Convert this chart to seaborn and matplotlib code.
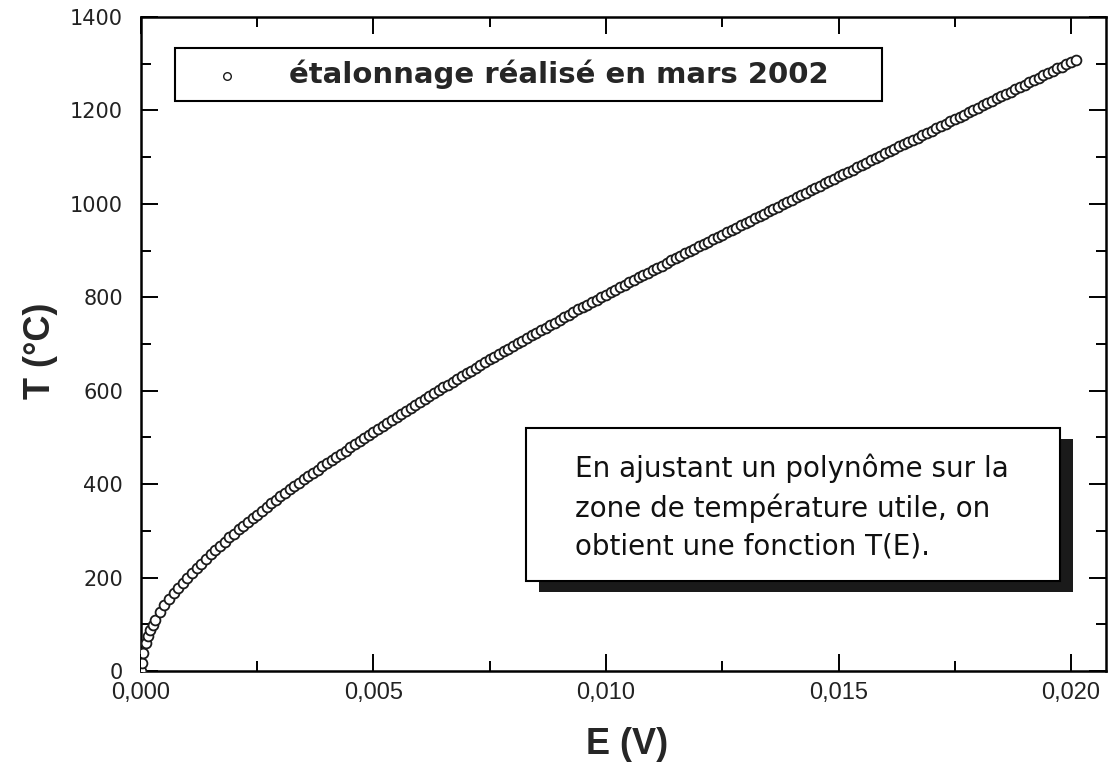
import numpy as np
import matplotlib
matplotlib.use("Agg")
import matplotlib.pyplot as plt
import seaborn as sns
from matplotlib.patches import Rectangle
from matplotlib.ticker import MultipleLocator, FuncFormatter

# calibration points: E in mV, T in degC
E_mV = [0.0, 0.02, 0.05, 0.1, 0.15, 0.2, 0.25,
        0.3, 0.4, 0.5, 0.6, 0.7, 0.8, 0.9,
        1.0, 1.1, 1.2, 1.3, 1.4, 1.5, 1.6, 1.7, 1.8, 1.9,
        2.0, 2.1, 2.2, 2.3, 2.4, 2.5, 2.6, 2.7, 2.8, 2.9,
        3.0, 3.1, 3.2, 3.3, 3.4, 3.5, 3.6, 3.7, 3.8, 3.9,
        4.0, 4.1, 4.2, 4.3, 4.4, 4.5, 4.6, 4.7, 4.8, 4.9,
        5.0, 5.1, 5.2, 5.3, 5.4, 5.5, 5.6, 5.7, 5.8, 5.9,
        6.0, 6.1, 6.2, 6.3, 6.4, 6.5, 6.6, 6.7, 6.8, 6.9,
        7.0, 7.1, 7.2, 7.3, 7.4, 7.5, 7.6, 7.7, 7.8, 7.9,
        8.0, 8.1, 8.2, 8.3, 8.4, 8.5, 8.6, 8.7, 8.8, 8.9,
        9.0, 9.1, 9.2, 9.3, 9.4, 9.5, 9.6, 9.7, 9.8, 9.9,
        10.0, 10.1, 10.2, 10.3, 10.4, 10.5, 10.6, 10.7, 10.8, 10.9,
        11.0, 11.1, 11.2, 11.3, 11.4, 11.5, 11.6, 11.7, 11.8, 11.9,
        12.0, 12.1, 12.2, 12.3, 12.4, 12.5, 12.6, 12.7, 12.8, 12.9,
        13.0, 13.1, 13.2, 13.3, 13.4, 13.5, 13.6, 13.7, 13.8, 13.9,
        14.0, 14.1, 14.2, 14.3, 14.4, 14.5, 14.6, 14.7, 14.8, 14.9,
        15.0, 15.1, 15.2, 15.3, 15.4, 15.5, 15.6, 15.7, 15.8, 15.9,
        16.0, 16.1, 16.2, 16.3, 16.4, 16.5, 16.6, 16.7, 16.8, 16.9,
        17.0, 17.1, 17.2, 17.3, 17.4, 17.5, 17.6, 17.7, 17.8, 17.9,
        18.0, 18.1, 18.2, 18.3, 18.4, 18.5, 18.6, 18.7, 18.8, 18.9,
        19.0, 19.1, 19.2, 19.3, 19.4, 19.5, 19.6, 19.7, 19.8, 19.9,
        20.0, 20.1]

T_C = [0, 18, 38, 60, 75, 88, 99,
       109, 126, 141, 155, 167, 178, 189,
       199, 210, 220, 230, 240, 250, 259, 268, 277, 286,
       294, 303, 311, 319, 327, 335, 343, 351, 359, 366,
       374, 381, 389, 396, 403, 410, 417, 424, 431, 438,
       445, 452, 459, 465, 472, 479, 485, 492, 499, 505,
       512, 518, 525, 531, 538, 544, 551, 557, 563, 570,
       576, 582, 588, 595, 601, 607, 613, 619, 625, 631,
       637, 643, 649, 655, 661, 667, 673, 679, 684, 690,
       696, 702, 707, 713, 719, 724, 730, 735, 741, 746,
       752, 757, 763, 768, 774, 779, 784, 790, 795, 800,
       806, 811, 816, 822, 827, 832, 837, 843, 848, 853,
       858, 863, 868, 873, 879, 884, 889, 894, 899, 904,
       909, 914, 919, 924, 929, 934, 939, 944, 949, 954,
       959, 964, 969, 974, 979, 984, 989, 994, 999, 1004,
       1009, 1014, 1019, 1024, 1029, 1034, 1039, 1044, 1049, 1054,
       1059, 1064, 1068, 1073, 1078, 1083, 1088, 1093, 1098, 1103,
       1108, 1113, 1118, 1123, 1128, 1133, 1137, 1142, 1147, 1152,
       1157, 1162, 1167, 1172, 1177, 1182, 1187, 1191, 1196, 1201,
       1206, 1211, 1216, 1221, 1226, 1231, 1236, 1240, 1245, 1250,
       1255, 1260, 1265, 1270, 1275, 1280, 1285, 1290, 1294, 1299,
       1304, 1309]

legend_label = "étalonnage réalisé en mars 2002"
note = "En ajustant un polynôme sur la\nzone de température utile, on\nobtient une fonction T(E)."

sns.set_style("ticks")
plt.rcParams["font.family"] = ["DejaVu Sans"]

fig = plt.figure(figsize=(11.09, 7.71), dpi=100)
ax = fig.add_axes([0.1271, 0.1297, 0.8702, 0.8482])

E = np.array(E_mV) / 1000.0  # mV -> V
sns.scatterplot(x=E, y=T_C, ax=ax, marker="o", s=50, facecolor="white",
                edgecolor="#1a1a1a", linewidth=1.3, label=legend_label, zorder=3)

ax.set_xlim(0, 0.02075)
ax.set_ylim(0, 1400)
ax.xaxis.set_major_locator(MultipleLocator(0.005))
ax.xaxis.set_minor_locator(MultipleLocator(0.0025))
ax.yaxis.set_major_locator(MultipleLocator(200))
ax.yaxis.set_minor_locator(MultipleLocator(100))
ax.xaxis.set_major_formatter(FuncFormatter(lambda v, p: f"{v:.3f}".replace(".", ",")))
ax.yaxis.set_major_formatter(FuncFormatter(lambda v, p: f"{v:.0f}"))

for side in ["left", "right", "top", "bottom"]:
    ax.spines[side].set_linewidth(1.8)
    ax.spines[side].set_color("black")
ax.tick_params(which="both", direction="in", top=True, right=True, width=1.4, color="black")
ax.tick_params(which="major", length=12)
ax.tick_params(which="minor", length=7)
ax.tick_params(axis="y", pad=13, labelsize=15, labelcolor="#222222")
ax.tick_params(axis="x", pad=8, labelsize=17, labelcolor="#222222")
for lab in ax.get_xticklabels():
    lab.set_family(["Liberation Sans Narrow", "Liberation Sans"])

ax.set_xlabel("E (V)", fontsize=26, fontweight="bold", family=["Liberation Sans", "DejaVu Sans"])
ax.set_ylabel("T (°C)", fontsize=26, fontweight="bold", family=["Liberation Sans", "DejaVu Sans"])
ax.xaxis.set_label_coords(0.504, -0.085)
ax.yaxis.set_label_coords(-0.086, 0.49)

leg = ax.legend(loc="upper left", bbox_to_anchor=(0.0352, 0.5, 0.7326, 0.4526),
                mode="expand", borderaxespad=0, borderpad=0.4, handlelength=2.8,
                handletextpad=0.7, fancybox=False, framealpha=1,
                prop={"family": "DejaVu Sans", "weight": "bold", "size": 21})
leg.get_frame().set_edgecolor("black")
leg.get_frame().set_linewidth(1.5)
for h in leg.legend_handles:
    h.set_sizes([30])
    h.set_linewidth(1.0)

# note box with a drop shadow
bx, by, bw, bh = 0.399, 0.1376, 0.553, 0.234
ax.add_patch(Rectangle((bx + 0.0135, by - 0.0168), bw, bh, transform=ax.transAxes,
                       facecolor="#1a1a1a", edgecolor="none", zorder=5))
ax.add_patch(Rectangle((bx, by), bw, bh, transform=ax.transAxes,
                       facecolor="white", edgecolor="black", linewidth=1.5, zorder=6))
ax.text(0.4497, 0.2508, note, transform=ax.transAxes, ha="left", va="center",
        fontsize=20, linespacing=1.45, color="#111111", zorder=7)

fig.savefig("out.png", dpi=100, facecolor="white")
